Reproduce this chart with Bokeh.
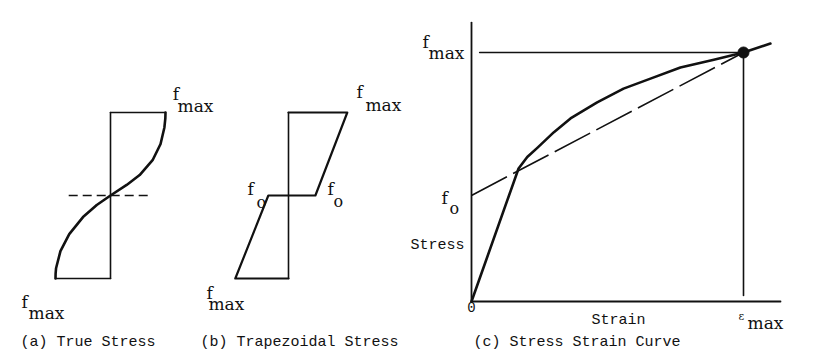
from bokeh.plotting import figure
from bokeh.models import Range1d
from bokeh.core.properties import value
from bokeh.embed import file_html
from bokeh.resources import INLINE

# ---------------- data ----------------
# (a) true stress distribution: depth (-1..1) vs stress (in units of f_max)
depth_a = [-1.0, -0.94, -0.877, -0.67, -0.465, -0.26, -0.115, 0.0, 0.127, 0.246, 0.425, 0.62, 0.82, 0.93, 1.0]
stress_a = [-1.0, -0.998, -0.99, -0.91, -0.75, -0.5, -0.25, 0.0, 0.294, 0.53, 0.765, 0.91, 0.98, 0.997, 1.0]
dash_a = [-0.76, 0.76]

# (b) trapezoidal stress distribution
depth_b = [1.0, 1.0, 0.0, 0.0, -1.0, -1.0]
stress_b = [0.0, 1.05, 0.48, -0.36, -0.95, 0.0]

# (c) stress strain curve (in units of eps_max and f_max)
strain_c = [0.0, 0.173, 0.205, 0.243, 0.303, 0.364, 0.462, 0.559, 0.658, 0.768, 0.891, 1.0, 1.099]
stress_c = [0.0, 0.534, 0.580, 0.618, 0.680, 0.735, 0.800, 0.855, 0.895, 0.940, 0.971, 1.0, 1.036]
f_o = 0.426
f_max = 1.0
eps_max = 1.0

captions = ["(a)  True Stress", "(b)  Trapezoidal Stress", "(c)  Stress Strain Curve"]

# ---------------- layout ----------------
W, H = 806, 352
MONO = "Liberation Mono"
SERIF = "DejaVu Serif"

p = figure(width=W, height=H, output_backend="svg", toolbar_location=None,
           x_range=Range1d(0, W), y_range=Range1d(H, 0),
           x_axis_location=None, y_axis_location=None, min_border=0)
p.grid.visible = False
p.outline_line_color = None
p.background_fill_color = "white"
p.border_fill_color = "white"

# panel frames: origin in page pixels, pixels per unit
panels = {"a": (110, 195, 55, 83), "b": (288, 195, 56, 83), "c": (471, 301, 272, 249)}
for name, (ox, oy, sx, sy) in panels.items():
    p.extra_x_ranges[name] = Range1d((0 - ox) / sx, (W - ox) / sx)
    p.extra_y_ranges[name] = Range1d((oy - H) / sy, oy / sy)

INK = "#111111"


def line(xs, ys, name, width=1.6, dash="solid"):
    p.line(xs, ys, x_range_name=name, y_range_name=name, line_color=INK,
           line_width=width, line_dash=dash, line_cap="round" if dash == "solid" else "butt",
           line_join="round")


def label(x, y, txt, name, size=15, align="left", baseline="alphabetic", font=SERIF):
    p.text(x=[x], y=[y], text=[txt], x_range_name=name, y_range_name=name,
           text_font=value(font), text_font_size=f"{size}px", text_color=INK,
           text_align=align, text_baseline=baseline)


# ---- (a) ----
line([0, 0], [-1, 1], "a")
line([0, stress_a[-1]], [1, 1], "a")
line([stress_a[0], 0], [-1, -1], "a")
line(stress_a, depth_a, "a", width=2.6)
line(dash_a, [0, 0], "a", width=1.5, dash="9 5")
label(1.13, 1.22, "f", "a", 17)
label(1.22, 1.08, "max", "a", 17)
label(-1.62, -1.28, "f", "a", 17)
label(-1.49, -1.41, "max", "a", 17)
label(-1.636, -1.77, captions[0], "a", 15, font=MONO)

# ---- (b) ----
line([0, 0], [-1, 1], "b")
line(stress_b, depth_b, "b", width=2.2)
label(1.214, 1.253, "f", "b", 17)
label(1.375, 1.096, "max", "b", 17)
label(-0.732, 0.084, "f", "b", 17)
label(-0.571, -0.084, "o", "b", 16)
label(0.696, 0.084, "f", "b", 17)
label(0.804, -0.072, "o", "b", 16)
label(-1.464, -1.18, "f", "b", 17)
label(-1.43, -1.313, "max", "b", 17)
label(-1.571, -1.77, captions[1], "b", 15, font=MONO)

# ---- (c) ----
line([0, 0], [0, 1.12], "c", width=1.8)
line([0, 1.136], [0, 0], "c", width=1.8)
line([0.03, eps_max], [f_max, f_max], "c", width=1.6)
line([eps_max, eps_max], [0.024, f_max], "c", width=1.6)
line([0, eps_max], [f_o, f_max], "c", width=1.6, dash="40 7")
line(strain_c, stress_c, "c", width=2.6)
p.scatter([eps_max], [f_max], x_range_name="c", y_range_name="c", size=11,
          fill_color=INK, line_color=INK)
label(-0.18, 1.044, "f", "c", 17)
label(-0.158, 1.0, "max", "c", 17)
label(-0.11, 0.414, "f", "c", 17)
label(-0.081, 0.373, "o", "c", 16)
label(-0.026, 0.225, "Stress", "c", 15, align="right", font=MONO)
label(0.0, -0.004, "0", "c", 14, align="center", baseline="top", font=MONO)
label(0.54, -0.076, "Strain", "c", 15, align="center", font=MONO)
label(0.982, -0.06, "\u03b5", "c", 11)
label(1.015, -0.088, "max", "c", 17)
label(0.007, -0.165, captions[2], "c", 15, font=MONO)

open("out.html", "w").write(file_html(p, INLINE))
